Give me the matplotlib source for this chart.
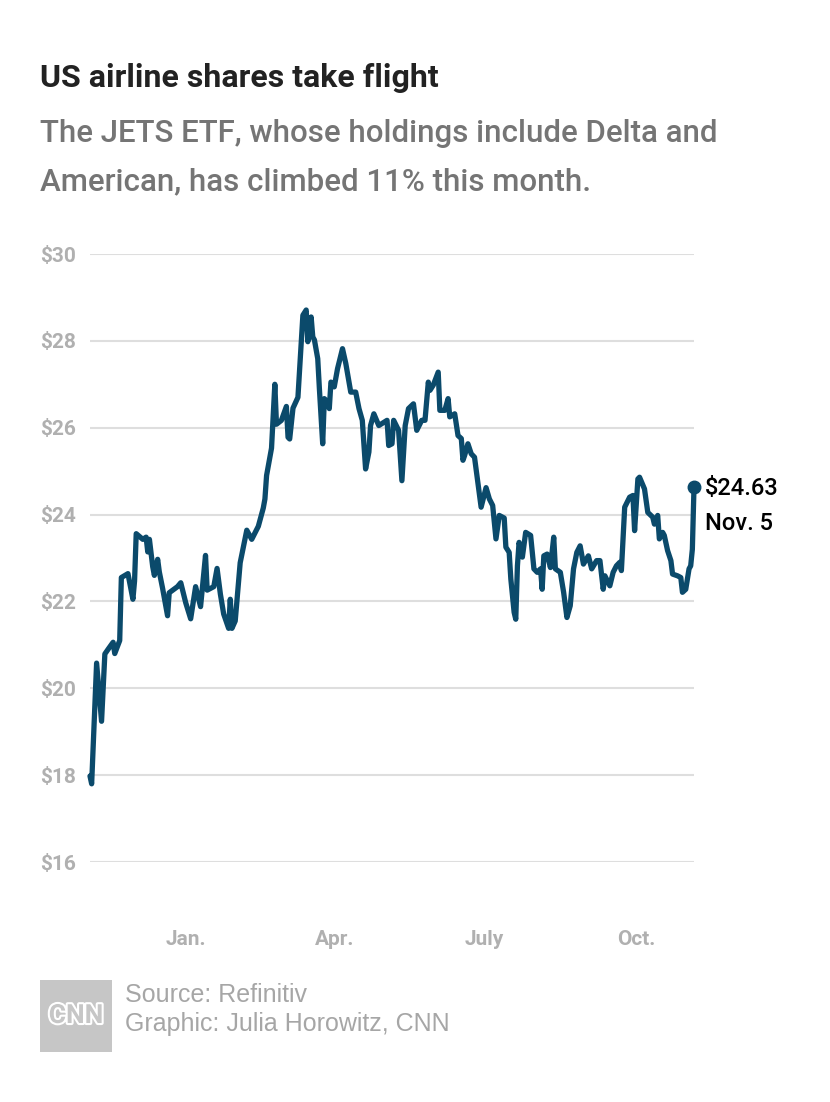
import pandas as pd
import matplotlib
matplotlib.use("Agg")
import matplotlib.pyplot as plt
import matplotlib.patheffects as pe
from matplotlib.patches import Rectangle

# JETS ETF closing prices
dates = [
    "2020-11-04", "2020-11-05", "2020-11-08", "2020-11-11", "2020-11-13", "2020-11-15",
    "2020-11-18", "2020-11-19", "2020-11-22", "2020-11-23", "2020-11-27", "2020-11-30",
    "2020-12-01", "2020-12-02", "2020-12-06", "2020-12-08", "2020-12-09", "2020-12-10",
    "2020-12-12", "2020-12-13", "2020-12-15", "2020-12-16", "2020-12-18", "2020-12-21",
    "2020-12-22", "2020-12-27", "2020-12-29", "2021-01-01", "2021-01-04", "2021-01-07",
    "2021-01-10", "2021-01-13", "2021-01-14", "2021-01-18", "2021-01-20", "2021-01-22",
    "2021-01-24", "2021-01-27", "2021-01-28", "2021-01-29", "2021-01-31", "2021-02-03",
    "2021-02-07", "2021-02-10", "2021-02-14", "2021-02-17", "2021-02-18", "2021-02-19",
    "2021-02-21", "2021-02-22", "2021-02-24", "2021-02-25", "2021-02-28", "2021-03-03",
    "2021-03-04", "2021-03-05", "2021-03-07", "2021-03-10", "2021-03-13", "2021-03-15",
    "2021-03-16", "2021-03-18", "2021-03-19", "2021-03-20", "2021-03-22", "2021-03-23",
    "2021-03-25", "2021-03-26", "2021-03-28", "2021-03-29", "2021-03-30", "2021-04-01",
    "2021-04-03", "2021-04-06", "2021-04-08", "2021-04-11", "2021-04-14", "2021-04-16",
    "2021-04-18", "2021-04-20", "2021-04-22", "2021-04-23", "2021-04-25", "2021-04-28",
    "2021-05-03", "2021-05-04", "2021-05-06", "2021-05-07", "2021-05-10", "2021-05-12",
    "2021-05-14", "2021-05-16", "2021-05-19", "2021-05-21", "2021-05-24", "2021-05-26",
    "2021-05-28", "2021-05-29", "2021-05-31", "2021-06-03", "2021-06-04", "2021-06-07",
    "2021-06-09", "2021-06-10", "2021-06-13", "2021-06-15", "2021-06-17", "2021-06-18",
    "2021-06-19", "2021-06-21", "2021-06-23", "2021-06-25", "2021-06-27", "2021-06-29",
    "2021-07-02", "2021-07-04", "2021-07-06", "2021-07-08", "2021-07-10", "2021-07-13",
    "2021-07-14", "2021-07-16", "2021-07-17", "2021-07-19", "2021-07-20", "2021-07-21",
    "2021-07-22", "2021-07-24", "2021-07-26", "2021-07-29", "2021-07-31", "2021-08-02",
    "2021-08-04", "2021-08-05", "2021-08-06", "2021-08-08", "2021-08-10", "2021-08-12",
    "2021-08-13", "2021-08-16", "2021-08-18", "2021-08-20", "2021-08-22", "2021-08-24",
    "2021-08-26", "2021-08-28", "2021-08-30", "2021-09-02", "2021-09-04", "2021-09-07",
    "2021-09-09", "2021-09-11", "2021-09-12", "2021-09-15", "2021-09-17", "2021-09-19",
    "2021-09-21", "2021-09-22", "2021-09-24", "2021-09-27", "2021-09-29", "2021-09-30",
    "2021-10-02", "2021-10-03", "2021-10-06", "2021-10-08", "2021-10-11", "2021-10-12",
    "2021-10-14", "2021-10-15", "2021-10-17", "2021-10-18", "2021-10-20", "2021-10-22",
    "2021-10-23", "2021-10-26", "2021-10-28", "2021-10-29", "2021-10-31", "2021-11-02",
    "2021-11-03", "2021-11-04", "2021-11-05",
]
prices = [
    17.98, 17.80, 20.58, 19.24, 20.79, 20.90,
    21.06, 20.80, 21.10, 22.55, 22.64, 22.05,
    22.47, 23.56, 23.43, 23.48, 23.14, 23.43,
    22.80, 22.60, 22.97, 22.68, 22.30, 21.67,
    22.20, 22.34, 22.43, 21.97, 21.60, 22.34,
    21.88, 23.06, 22.26, 22.34, 22.76, 22.17,
    21.71, 21.38, 22.05, 21.38, 21.55, 22.89,
    23.64, 23.43, 23.73, 24.15, 24.36, 24.90,
    25.32, 25.53, 27.00, 26.08, 26.17, 26.49,
    25.78, 25.74, 26.45, 26.70, 28.59, 28.71,
    27.98, 28.55, 28.09, 28.02, 27.59, 26.90,
    25.63, 26.67, 26.59, 26.44, 27.05, 26.94,
    27.36, 27.82, 27.48, 26.82, 26.82, 26.44,
    26.17, 25.05, 25.44, 26.05, 26.32, 26.05,
    26.17, 25.59, 25.63, 26.17, 25.94, 24.78,
    26.05, 26.44, 26.55, 25.94, 26.17, 26.17,
    27.05, 26.86, 26.98, 27.28, 26.40, 26.40,
    26.67, 26.25, 26.32, 25.82, 25.75, 25.25,
    25.36, 25.63, 25.40, 25.32, 24.75, 24.17,
    24.62, 24.36, 24.21, 23.44, 23.98, 23.92,
    23.25, 23.13, 22.52, 21.75, 21.59, 22.82,
    23.36, 23.02, 23.59, 23.52, 22.75, 22.67,
    22.75, 22.28, 23.05, 23.09, 22.78, 23.48,
    22.75, 22.67, 22.21, 21.63, 21.90, 22.75,
    23.13, 23.28, 22.86, 23.05, 22.75, 22.94,
    22.94, 22.28, 22.59, 22.36, 22.67, 22.82,
    22.90, 22.71, 24.17, 24.40, 24.44, 23.63,
    24.82, 24.86, 24.59, 24.05, 23.94, 23.78,
    23.98, 23.44, 23.59, 23.52, 23.17, 22.94,
    22.63, 22.59, 22.55, 22.21, 22.28, 22.75,
    22.82, 23.20, 24.63,
]

month_ticks = ["2021-01-01", "2021-04-01", "2021-07-01", "2021-10-01"]
month_labels = ["Jan.", "Apr.", "July", "Oct."]
y_ticks = [16, 18, 20, 22, 24, 26, 28, 30]

line_color = "#0b4a6b"
W, H = 830, 1102

x = pd.to_datetime(dates)

fig = plt.figure(figsize=(W / 100, H / 100), dpi=100)
fig.patch.set_facecolor("white")

ax = fig.add_axes([90 / W, 1 - 862 / H, (694 - 90) / W, (862 - 254) / H])
ax.plot(x, prices, color=line_color, lw=3.8, solid_joinstyle="round",
        solid_capstyle="round", zorder=3, clip_on=False)
ax.plot(x[-1], prices[-1], "o", color=line_color, ms=9, zorder=4, clip_on=False)

ax.set_xlim(x[0], x[-1])
ax.set_ylim(16, 30)
ax.set_yticks(y_ticks)
ax.set_yticklabels([f"${v}" for v in y_ticks], ha="left")
ax.set_xticks(pd.to_datetime(month_ticks))
ax.set_xticklabels(month_labels)

for s in ax.spines.values():
    s.set_visible(False)
ax.grid(axis="y", color="#dedede", lw=1.5, zorder=0)
ax.tick_params(axis="y", length=0, pad=36, labelsize=15, labelcolor="#b0b0b0")
ax.tick_params(axis="x", length=0, pad=49, labelsize=15, labelcolor="#b0b0b0")
for lab in ax.get_yticklabels() + ax.get_xticklabels():
    lab.set_family("Roboto")
    lab.set_fontweight("bold")

# end-point label
ax.annotate(f"${prices[-1]:.2f}", xy=(x[-1], prices[-1]), xytext=(8, -1),
            textcoords="offset points", va="center", ha="left", fontsize=17,
            family="Roboto", fontweight="medium", color="black")
ax.annotate("Nov. 5", xy=(x[-1], prices[-1]), xytext=(8, -26),
            textcoords="offset points", va="center", ha="left", fontsize=17,
            family="Roboto", fontweight="medium", color="black")

# titles
fig.text(40 / W, 1 - 87 / H, "US airline shares take flight", fontsize=23,
         fontweight="bold", family=["Liberation Sans Narrow", "Roboto"],
         color="#222222", va="baseline")
fig.text(40 / W, 1 - 142 / H, "The JETS ETF, whose holdings include Delta and",
         fontsize=22.5, family="Roboto", fontweight="medium", color="#757575",
         va="baseline")
fig.text(40 / W, 1 - 190 / H, "American, has climbed 11% this month.",
         fontsize=22.5, family="Roboto", fontweight="medium", color="#757575",
         va="baseline")

# footer
fig.patches.append(Rectangle((40 / W, 1 - 1052 / H), 72 / W, 72 / H,
                             transform=fig.transFigure, facecolor="#c6c6c6",
                             edgecolor="none"))
fig.text(76 / W, 1 - 1016 / H, "CNN", fontsize=19, fontweight="bold",
         family=["Liberation Sans Narrow", "Roboto"], color="#c6c6c6",
         ha="center", va="center",
         path_effects=[pe.withStroke(linewidth=3, foreground="white")])
fig.text(125 / W, 1 - 1002 / H, "Source: Refinitiv", fontsize=18,
         family="Liberation Sans", color="#a6a6a6", va="baseline")
fig.text(125 / W, 1 - 1031 / H, "Graphic: Julia Horowitz, CNN", fontsize=18,
         family="Liberation Sans", color="#a6a6a6", va="baseline")

fig.savefig("out.png", dpi=100, facecolor="white")
